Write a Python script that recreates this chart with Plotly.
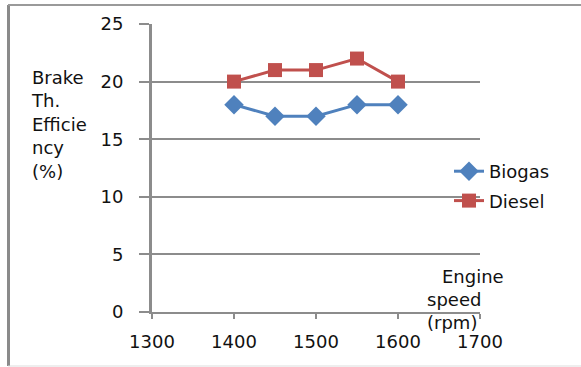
import plotly.graph_objects as go

# Engine speed (rpm) and brake thermal efficiency (%) per fuel
speed = [1400, 1450, 1500, 1550, 1600]
biogas = [18, 17, 17, 18, 18]
diesel = [20, 21, 21, 22, 20]

x_ticks = [1300, 1400, 1500, 1600, 1700]
y_ticks = [0, 5, 10, 15, 20, 25]

W, H = 581, 367
L, R, T, B = 152, 480, 24, 312  # plot-area edges in pixels


def px_x(p):
    return (p - L) / (R - L)


def px_y(p):
    return (B - p) / (B - T)


FONT = "DejaVu Sans"
FS = 18
GRAY = "#8c8c8c"
INK = "#111111"

fig = go.Figure()
fig.add_trace(go.Scatter(
    x=speed, y=biogas, name="Biogas", mode="lines+markers",
    line=dict(color="#4F81BD", width=3),
    marker=dict(symbol="diamond", size=15, color="#4F81BD"),
    legendgroup="a",
))
fig.add_trace(go.Scatter(
    x=speed, y=diesel, name="Diesel", mode="lines+markers",
    line=dict(color="#C0504D", width=3),
    marker=dict(symbol="square", size=14, color="#C0504D"),
    legendgroup="b",
))

fig.update_layout(
    width=W, height=H,
    margin=dict(l=L, r=W - R, t=T, b=H - B, pad=0),
    paper_bgcolor="white", plot_bgcolor="white",
    font=dict(family=FONT, size=FS, color=INK),
    showlegend=True,
    legend=dict(
        x=px_x(449), y=px_y(153), xanchor="left", yanchor="top",
        traceorder="grouped", tracegroupgap=3,
        bgcolor="rgba(0,0,0,0)", borderwidth=0,
        font=dict(family=FONT, size=FS, color=INK),
    ),
    xaxis=dict(
        range=[1300, 1700], tickvals=x_ticks, ticktext=[str(v) for v in x_ticks],
        showgrid=False, zeroline=False,
        showline=True, linecolor=GRAY, linewidth=2,
        ticks="outside", ticklen=5, tickwidth=2, tickcolor=GRAY,
        ticklabelstandoff=7,
    ),
    yaxis=dict(
        range=[0, 25], tickvals=y_ticks, ticktext=[str(v) for v in y_ticks],
        showgrid=True, gridcolor=GRAY, gridwidth=2, zeroline=False,
        showline=True, linecolor=GRAY, linewidth=3,
        ticks="outside", ticklen=10, tickwidth=2, tickcolor=GRAY,
        ticklabelstandoff=12,
    ),
)

# Axis titles placed as free text
fig.add_annotation(
    text="Brake<br>Th.<br>Efficie<br>ncy<br>(%)",
    xref="paper", yref="paper", x=px_x(29), y=px_y(65),
    xanchor="left", yanchor="top", align="left", showarrow=False,
    font=dict(family=FONT, size=FS, color=INK),
)
fig.add_annotation(
    text="Engine",
    xref="paper", yref="paper", x=px_x(440), y=px_y(264),
    xanchor="left", yanchor="top", align="left", showarrow=False,
    font=dict(family=FONT, size=FS, color=INK),
)
fig.add_annotation(
    text="speed<br>(rpm)",
    xref="paper", yref="paper", x=px_x(425), y=px_y(287),
    xanchor="left", yanchor="top", align="left", showarrow=False,
    font=dict(family=FONT, size=FS, color=INK),
)

# Chart frame
fig.add_shape(type="line", xref="paper", yref="paper",
              x0=px_x(8.5), x1=px_x(8.5), y0=px_y(5), y1=px_y(366),
              line=dict(color="#8a8a8a", width=3))
fig.add_shape(type="line", xref="paper", yref="paper",
              x0=px_x(8), x1=px_x(581), y0=px_y(5), y1=px_y(5),
              line=dict(color="#9a9a9a", width=2))
fig.add_shape(type="line", xref="paper", yref="paper",
              x0=px_x(8), x1=px_x(581), y0=px_y(366), y1=px_y(366),
              line=dict(color="#dddddd", width=1))

fig.write_html("out.html")
